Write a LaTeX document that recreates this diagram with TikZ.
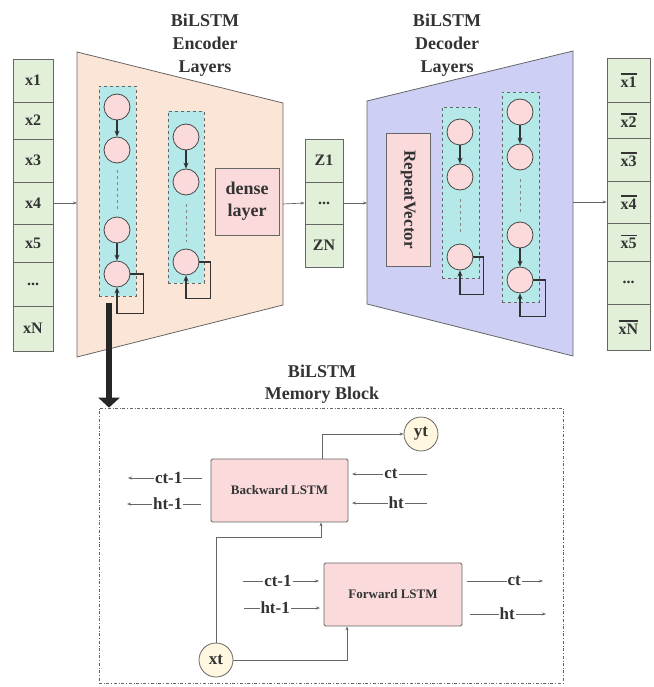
\documentclass[tikz,border=0pt]{standalone}
\usepackage{fontspec}
\setmainfont{Liberation Serif}
\usetikzlibrary{arrows.meta,calc}
\definecolor{cellg}{HTML}{E2F0D9}
\definecolor{encf}{HTML}{FBE5D6}
\definecolor{decf}{HTML}{CDCFF5}
\definecolor{cyanf}{HTML}{B5E8E8}
\definecolor{pinkf}{HTML}{FADADB}
\definecolor{creamf}{HTML}{FFF7DF}
\definecolor{edge}{HTML}{666666}
\definecolor{ink}{HTML}{333333}
\newcommand{\obar}[1]{\leavevmode\hbox{\vbox{\hrule height 1.6pt\kern2pt\hbox{#1}}}}
\begin{document}
\begin{tikzpicture}[x=1pt,y=-1pt,
  cell/.style={draw=edge,fill=cellg,line width=0.8pt,minimum width=40pt,inner sep=0pt,text=ink,font=\fontsize{16}{19}\selectfont\bfseries},
  colbox/.style={draw=edge,fill=cyanf,dashed,line width=0.8pt,inner sep=0pt},
  unit/.style={circle,draw=ink!90,fill=pinkf,line width=0.8pt,minimum size=26pt,inner sep=0pt},
  carr/.style={draw=ink,line width=1.4pt,-{Stealth[length=6pt,width=5pt]}},
  loopln/.style={draw=ink,line width=1.6pt,-{Stealth[length=6pt,width=5pt]}},
  thin/.style={draw=edge,line width=0.7pt,-{Stealth[length=4pt,width=3pt]}},
  title/.style={align=center,text=ink,font=\fontsize{18}{23}\selectfont\bfseries},
  pbox/.style={draw=edge,fill=pinkf,line width=0.8pt,inner sep=0pt,text=ink},
  lbl/.style={fill=white,inner sep=1pt,text=ink,font=\fontsize{17}{20}\selectfont\bfseries},
  cream/.style={circle,draw=edge,fill=creamf,line width=0.8pt,minimum size=34pt,inner sep=0pt,text=ink,font=\fontsize{17}{20}\selectfont\bfseries},
  dotsep/.style={draw=edge!80,dashed,line width=0.8pt}
]
\useasboundingbox (0,0) rectangle (653,687);

% ---------- trapezoids ----------
\draw[fill=encf,draw=edge,line width=0.8pt] (77,52) -- (283,103) -- (283,305) -- (77,357) -- cycle;
\draw[fill=decf,draw=edge,line width=0.8pt] (367,101) -- (573,51) -- (573,356) -- (367,304) -- cycle;
\coordinate (encL) at (77,203);
\coordinate (encR) at (283,204);
\coordinate (decL) at (367,203);
\coordinate (decR) at (573,202);

\node[title] (enct) at (205,45) {BiLSTM\\Encoder\\Layers};
\node[title] (dect) at (447,45) {BiLSTM\\Decoder\\Layers};

% ---------- input column ----------
\node[cell,minimum height=43pt] (in1) at (33,80.5) {x1};
\node[cell,minimum height=37pt] (in2) at (33,120.5) {x2};
\node[cell,minimum height=43pt] (in3) at (33,160.5) {x3};
\node[cell,minimum height=42pt] (in4) at (33,203) {x4};
\node[cell,minimum height=38pt] (in5) at (33,243) {x5};
\node[cell,minimum height=44pt] (in6) at (33,284) {...};
\node[cell,minimum height=45pt] (in7) at (33,328.5) {xN};

% ---------- Z column ----------
\node[cell,minimum width=38pt,minimum height=43pt] (z1) at (324,160.5) {Z1};
\node[cell,minimum width=38pt,minimum height=42pt] (z2) at (324,203) {...};
\node[cell,minimum width=38pt,minimum height=43pt] (z3) at (324,245.5) {ZN};

% ---------- output column ----------
\node[cell,minimum width=43pt,minimum height=44pt] (o1) at (628.5,80) {\obar{x1}};
\node[cell,minimum width=43pt,minimum height=36pt] (o2) at (628.5,120) {\obar{x2}};
\node[cell,minimum width=43pt,minimum height=43pt] (o3) at (628.5,159.5) {\obar{x3}};
\node[cell,minimum width=43pt,minimum height=42pt] (o4) at (628.5,202) {\obar{x4}};
\node[cell,minimum width=43pt,minimum height=38pt] (o5) at (628.5,242) {\obar{x5}};
\node[cell,minimum width=43pt,minimum height=43pt] (o6) at (628.5,282.5) {...};
\node[cell,minimum width=43pt,minimum height=46pt] (o7) at (628.5,327) {\obar{xN}};

\draw[thin] (in4.east) -- (encL);
\draw[thin] (encR) -- (z2.west);
\draw[thin] (z2.east) -- (decL);
\draw[thin] (decR) -- (o4.west);

% ---------- encoder columns ----------
\node[colbox,minimum width=37pt,minimum height=210pt] (ec1) at (117.5,191) {};
\node[colbox,minimum width=36pt,minimum height=172pt] (ec2) at (186,197) {};
\node[unit] (e11) at (117,107) {};
\node[unit] (e12) at (117,150) {};
\node[unit] (e13) at (117,230) {};
\node[unit] (e14) at (117,274) {};
\node[unit] (e21) at (186,137) {};
\node[unit] (e22) at (186,182) {};
\node[unit] (e23) at (186,262) {};
\draw[carr] (e11) -- (e12);
\draw[carr] (e13) -- (e14);
\draw[carr] (e21) -- (e22);
\draw[dotsep] ($(e12.south)+(0,7)$) -- ($(e13.north)+(0,-8)$);
\draw[dotsep] ($(e22.south)+(0,9)$) -- ($(e23.north)+(0,-7)$);
\draw[loopln] (e14.east) -- ++(13,0) |- ($(e14.south)+(0,26)$) -- (e14.south);
\draw[loopln] (e23.east) -- ++(11,0) |- ($(e23.south)+(0,23)$) -- (e23.south);

\node[pbox,minimum width=64pt,minimum height=67pt,align=center,font=\fontsize{18}{22}\selectfont\bfseries] (dense) at (247,201.5) {dense\\layer};

% ---------- decoder columns ----------
\node[pbox,minimum width=133pt,minimum height=44pt,rotate=-90,font=\fontsize{17}{20}\selectfont\bfseries] (rep) at (408,199.5) {RepeatVector};
\node[colbox,minimum width=37pt,minimum height=171pt] (dc1) at (460.5,192.5) {};
\node[colbox,minimum width=37pt,minimum height=210pt] (dc2) at (520.5,197) {};
\node[unit] (d11) at (460,132) {};
\node[unit] (d12) at (460,177) {};
\node[unit] (d13) at (460,257) {};
\node[unit] (d21) at (520,112) {};
\node[unit] (d22) at (520,157) {};
\node[unit] (d23) at (520,235) {};
\node[unit] (d24) at (520,280) {};
\draw[carr] (d11) -- (d12);
\draw[carr] (d21) -- (d22);
\draw[carr] (d23) -- (d24);
\draw[dotsep] ($(d12.south)+(0,9)$) -- ($(d13.north)+(0,-9)$);
\draw[dotsep] ($(d22.south)+(0,9)$) -- ($(d23.north)+(0,-9)$);
\draw[loopln] (d13.east) -- ++(10,0) |- ($(d13.south)+(0,24)$) -- (d13.south);
\draw[loopln] (d24.east) -- ++(12,0) |- ($(d24.south)+(0,23)$) -- (d24.south);

% ---------- memory block ----------
\node[draw=edge,dash dot,line width=0.7pt,minimum width=464pt,minimum height=275pt,inner sep=0pt] (mem) at (331,545.5) {};
\node[title,font=\fontsize{18}{22}\selectfont\bfseries] (memt) at (322,384) {BiLSTM\\Memory Block};
\coordinate (thickstart) at (109,303);
\draw[line width=6pt,draw=black!85,-{Triangle[length=10pt,width=21pt]}] (thickstart) -- (thickstart |- mem.north);

\node[pbox,rounded corners=1.5pt,minimum width=137pt,minimum height=63pt,font=\fontsize{13}{16}\selectfont\bfseries] (bw) at (279.5,490.5) {Backward LSTM};
\node[pbox,rounded corners=1.5pt,minimum width=138pt,minimum height=63pt,font=\fontsize{13}{16}\selectfont\bfseries] (fw) at (393,594.5) {Forward LSTM};
\node[cream] (yt) at (421,434) {yt};
\node[cream] (xt) at (216,660) {xt};

\draw[thin] ([xshift=42.5pt]bw.north) |- (yt.west);
\draw[thin] (xt.north) -- ++(0,-105) -| ([xshift=41.5pt]bw.south);
\draw[thin] (xt.east) -| ([xshift=-46pt]fw.south);

% backward side labels
\coordinate (bls1) at (202,478); \coordinate (ble1) at (128,478);
\coordinate (bls2) at (201,504); \coordinate (ble2) at (127,504);
\coordinate (brs1) at (427,474); \coordinate (bre1) at (352,474);
\coordinate (brs2) at (427,503); \coordinate (bre2) at (352,503);
\draw[thin] (bls1) -- node[lbl,pos=0.45] (lb1) {ct-1} (ble1);
\draw[thin] (bls2) -- node[lbl,pos=0.45] (lb2) {ht-1} (ble2);
\draw[thin] (brs1) -- node[lbl,pos=0.48] (lb3) {ct} (bre1);
\draw[thin] (brs2) -- node[lbl,pos=0.41] (lb4) {ht} (bre2);

% forward side labels
\coordinate (fls1) at (243,581); \coordinate (fle1) at (319,581);
\coordinate (fls2) at (244,608); \coordinate (fle2) at (320,608);
\coordinate (frs1) at (467,581); \coordinate (fre1) at (543,581);
\coordinate (frs2) at (470,614); \coordinate (fre2) at (546,614);
\draw[thin] (fls1) -- node[lbl,pos=0.46] (lf1) {ct-1} (fle1);
\draw[thin] (fls2) -- node[lbl,pos=0.41] (lf2) {ht-1} (fle2);
\draw[thin] (frs1) -- node[lbl,pos=0.62] (lf3) {ct} (fre1);
\draw[thin] (frs2) -- node[lbl,pos=0.49] (lf4) {ht} (fre2);

\end{tikzpicture}
\end{document}
